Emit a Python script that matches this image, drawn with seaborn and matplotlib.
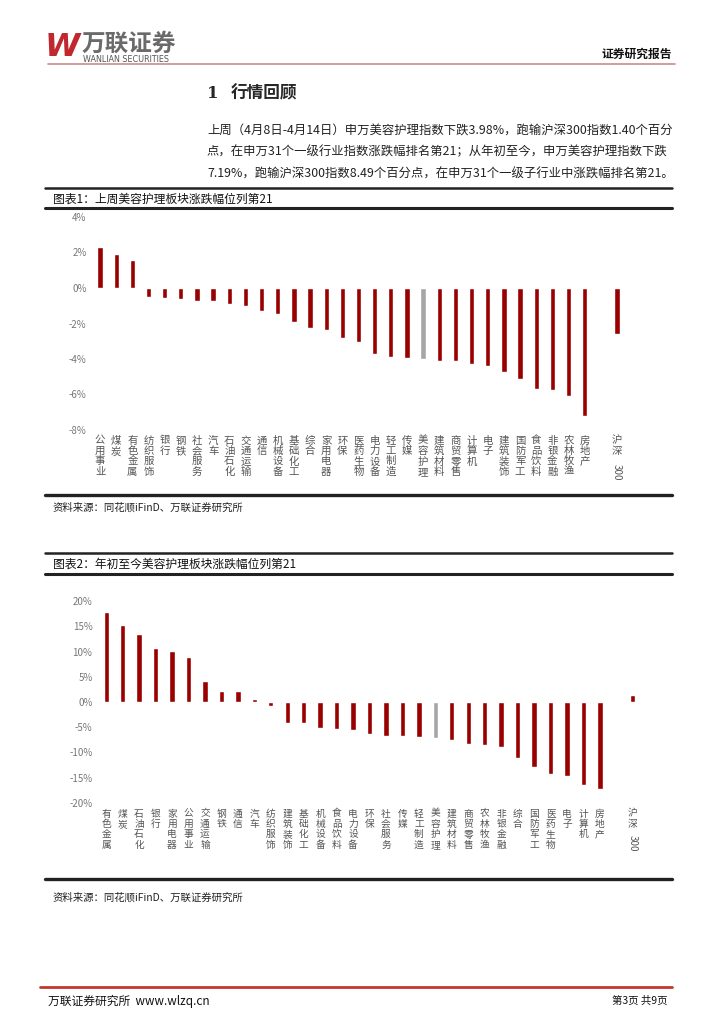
import pandas as pd
import seaborn as sns
import matplotlib.pyplot as plt
from matplotlib.lines import Line2D
import matplotlib.transforms as mtransforms

# 图表1: 上周涨跌幅 (%)
week_names = ["公用事业", "煤炭", "有色金属", "纺织服饰", "银行", "钢铁", "社会服务", "汽车",
              "石油石化", "交通运输", "通信", "机械设备", "基础化工", "综合", "家用电器", "环保",
              "医药生物", "电力设备", "轻工制造", "传媒", "美容护理", "建筑材料", "商贸零售",
              "计算机", "电子", "建筑装饰", "国防军工", "食品饮料", "非银金融", "农林牧渔",
              "房地产", "沪深300"]
week_values = [2.32, 1.90, 1.58, -0.53, -0.57, -0.61, -0.74, -0.76,
               -0.91, -1.01, -1.30, -1.47, -1.92, -2.27, -2.36, -2.84,
               -3.07, -3.71, -3.87, -3.94, -3.98, -4.13, -4.13,
               -4.27, -4.38, -4.74, -5.10, -5.71, -5.75, -6.11,
               -7.22, -2.58]
week_ticks = [4, 2, 0, -2, -4, -6, -8]

# 图表2: 年初至今涨跌幅 (%)
ytd_names = ["有色金属", "煤炭", "石油石化", "银行", "家用电器", "公用事业", "交通运输", "钢铁",
             "通信", "汽车", "纺织服饰", "建筑装饰", "基础化工", "机械设备", "食品饮料", "电力设备",
             "环保", "社会服务", "传媒", "轻工制造", "美容护理", "建筑材料", "商贸零售",
             "农林牧渔", "非银金融", "综合", "国防军工", "医药生物", "电子", "计算机",
             "房地产", "沪深300"]
ytd_values = [17.8, 15.3, 13.4, 10.7, 10.1, 9.0, 4.1, 2.2,
              2.1, 0.66, -0.86, -4.2, -4.2, -5.2, -5.3, -5.6,
              -6.4, -6.7, -6.8, -7.0, -7.19, -7.6, -8.4,
              -8.6, -8.9, -11.1, -12.8, -14.3, -14.7, -16.4,
              -17.2, 1.30]
ytd_ticks = [20, 15, 10, 5, 0, -5, -10, -15, -20]

highlight = "美容护理"
index_name = "沪深300"

para_lines = [
    "上周（4月8日-4月14日）申万美容护理指数下跌3.98%，跑输沪深300指数1.40个百分",
    "点，在申万31个一级行业指数涨跌幅排名第21；从年初至今，申万美容护理指数下跌",
    "7.19%，跑输沪深300指数8.49个百分点，在申万31个一级子行业中涨跌幅排名第21。",
]

RED = "#990000"
GREY = "#a6a6a6"
W, H = 724, 1024

sns.set_style("white")
plt.rcParams["font.family"] = ["Noto Sans CJK SC", "DejaVu Sans"]

fig = plt.figure(figsize=(W / 100, H / 100), dpi=100)


def fx(px):
    return px / W


def fy(py):
    return 1 - py / H


def rule(y, x0=45, x1=672, lw=1.8, color="#222222"):
    fig.add_artist(Line2D([fx(x0), fx(x1)], [fy(y), fy(y)], transform=fig.transFigure,
                          lw=lw, color=color))


def bar_chart(names, values, ticks, box, label_size, label_spacing):
    left, top, right, bottom = box
    ax = fig.add_axes([fx(left), fy(bottom), fx(right) - fx(left), (bottom - top) / H])
    order = names[:-1] + [" "] + [names[-1]]
    df = pd.DataFrame({"name": names, "value": values})
    palette = {n: (GREY if n == highlight else RED) for n in names}
    sns.barplot(data=df, x="name", y="value", hue="name", order=order, palette=palette,
                width=0.33, legend=False, ax=ax, saturation=1)
    ax.set_ylim(min(ticks), max(ticks))
    ax.set_yticks(ticks)
    ax.set_yticklabels([f"{t}%" for t in ticks], color="#777777", fontsize=7)
    labels = []
    for n in order:
        if n == index_name:
            labels.append("沪\n深")
        else:
            labels.append("\n".join(n.strip()))
    ax.set_xticks(range(len(order)))
    ax.set_xticklabels(labels, fontsize=label_size, color="#555555", va="top",
                       linespacing=label_spacing)
    ax.tick_params(length=0, axis="both", pad=4)
    for s in ax.spines.values():
        s.set_visible(False)
    ax.set_xlabel("")
    ax.set_ylabel("")
    return ax, order


# header
fig.text(fx(45), fy(48), "W", fontsize=23, fontweight="black", fontstyle="italic",
         color="#c0282d", family="DejaVu Sans", va="center", ha="left")
fig.text(fx(82), fy(51), "万联证券", fontsize=17, fontweight="bold", color="#6a6a6a",
         va="baseline", ha="left")
fig.text(fx(83), fy(60), "WANLIAN SECURITIES", fontsize=5.8, color="#555555",
         family="DejaVu Sans", va="center", ha="left")
rule(63.5, 48, 675, lw=1.2, color="#d08a8a")
fig.text(fx(672), fy(54), "证券研究报告", fontsize=8.5, fontweight="bold", color="#111111",
         va="center", ha="right")

# section heading + paragraph
fig.text(fx(207), fy(93), "1", fontsize=12, fontweight="bold", va="center", ha="left",
         family="DejaVu Serif")
fig.text(fx(231), fy(93), "行情回顾", fontsize=12, fontweight="bold", va="center", ha="left")
for i, line in enumerate(para_lines):
    fig.text(fx(207), fy(130 + 22 * i), line, fontsize=8.9, color="#222222",
             va="center", ha="left")

# chart 1
rule(188)
fig.text(fx(53), fy(199), "图表1：上周美容护理板块涨跌幅位列第21", fontsize=8.5,
         color="#111111", va="center", ha="left")
rule(208, lw=2.2)
ax1, order1 = bar_chart(week_names, week_values, week_ticks, (92, 217, 625, 430), 7.5, 1.05)
rule(495, lw=2.4)
fig.text(fx(53), fy(507), "资料来源：同花顺iFinD、万联证券研究所", fontsize=7.5,
         fontstyle="italic", color="#222222", va="center", ha="left")

# chart 2
rule(553)
fig.text(fx(53), fy(564), "图表2：年初至今美容护理板块涨跌幅位列第21", fontsize=8.5,
         color="#111111", va="center", ha="left")
rule(574, lw=2.2)
ax2, order2 = bar_chart(ytd_names, ytd_values, ytd_ticks, (98, 601, 641, 803), 7.0, 1.05)
rule(879, lw=2.4)
fig.text(fx(53), fy(897), "资料来源：同花顺iFinD、万联证券研究所", fontsize=7.5,
         fontstyle="italic", color="#222222", va="center", ha="left")

# "300" rotated under 沪深
for ax, order, y_px in ((ax1, order1, 464), (ax2, order2, 835)):
    trans = mtransforms.blended_transform_factory(ax.transData, fig.transFigure)
    ax.text(order.index(index_name), fy(y_px), "300", transform=trans, rotation=-90,
            fontsize=7, color="#555555", ha="center", va="top")

# footer
rule(987, 40, 672, lw=2.0, color="#c0392b")
fig.text(fx(48), fy(1001), "万联证券研究所  www.wlzq.cn", fontsize=8.5, color="#111111",
         va="center", ha="left")
fig.text(fx(668), fy(1001), "第3页 共9页", fontsize=7.5, color="#111111",
         va="center", ha="right")

fig.savefig("out.png", dpi=100)
